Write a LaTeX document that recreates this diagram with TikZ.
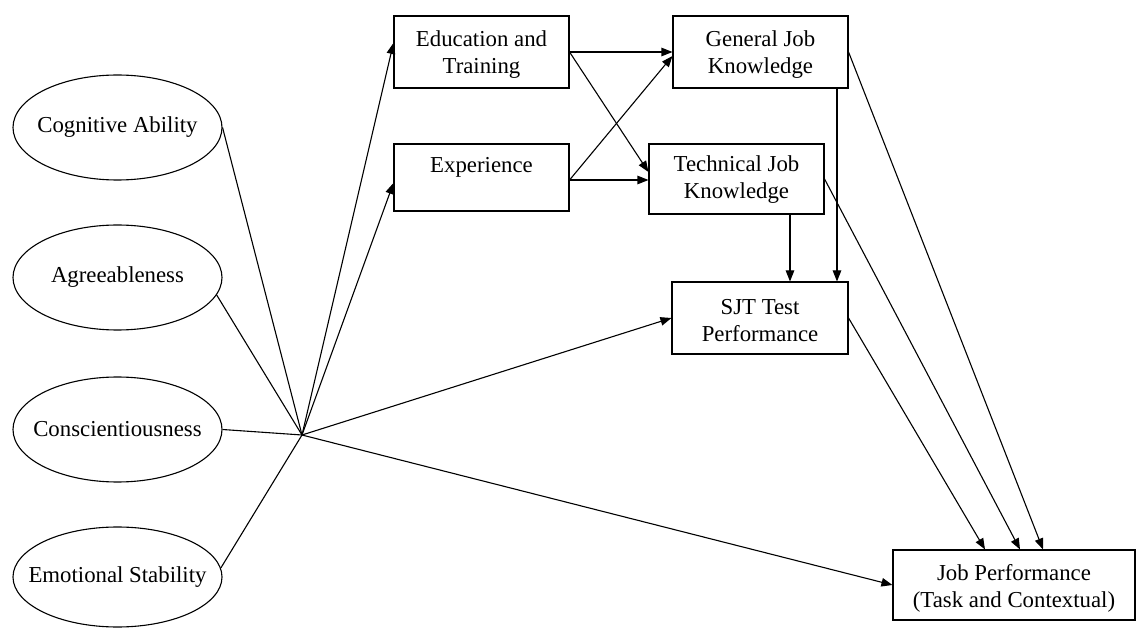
\documentclass[tikz,border=0pt]{standalone}
\usepackage{fontspec}
\setmainfont{Liberation Serif}
\usetikzlibrary{shapes.geometric,arrows.meta}
\begin{document}
\begin{tikzpicture}[x=1pt,y=-1pt,
  lbl/.style={font=\fontsize{22.8}{27}\selectfont, align=center, inner sep=0pt},
  trait/.style={draw, ellipse, inner sep=0pt, line width=1.1pt, minimum width=209pt, minimum height=105pt},
  boxn/.style={draw, rectangle, inner sep=0pt, line width=1.1pt},
  conn/.style={line width=1.1pt},
  arr/.style={conn, -{Triangle[length=11pt,width=8.5pt]}}]
\useasboundingbox (0,0) rectangle (1136,628);
% traits
\node[trait, label={[lbl,name=cogt]center:Cognitive Ability}] (cog) at (117.5,127.5) {};
\node[trait, label={[lbl,name=agrt]center:Agreeableness}] (agr) at (117.5,277.5) {};
\node[trait, label={[lbl,name=cont]center:Conscientiousness}] (con) at (117.5,429.5) {};
\node[trait, minimum height=100pt, label={[lbl,name=emot]center:Emotional Stability}] (emo) at (117.5,577) {};
% boxes
\node[boxn, minimum width=175pt, minimum height=72pt, label={[lbl,name=edut,yshift=-3pt]center:Education and\\Training}] (edu) at (481.5,52) {};
\node[boxn, minimum width=175pt, minimum height=67pt, label={[lbl,name=expt,yshift=10.5pt]center:Experience}] (exp) at (481.5,177.5) {};
\node[boxn, minimum width=175pt, minimum height=72pt, label={[lbl,name=gent,yshift=-3pt]center:General Job\\Knowledge}] (gen) at (760.5,52) {};
\node[boxn, minimum width=175pt, minimum height=70pt, label={[lbl,name=techt,yshift=-1pt]center:Technical Job\\Knowledge}] (tech) at (736.5,179) {};
\node[boxn, minimum width=176pt, minimum height=72pt, label={[lbl,name=sjtt,yshift=-3pt]center:SJT Test\\Performance}] (sjt) at (760,318) {};
\node[boxn, minimum width=242pt, minimum height=70pt, label={[lbl,name=jpt,yshift=-3.5pt]center:Job Performance\\(Task and Contextual)}] (jp) at (1014,585) {};
% hub
\coordinate (hub) at (302,435);
\draw[conn] (cog.east) -- (hub);
\draw[conn] (agr.-10) -- (hub);
\draw[conn] (con.east) -- (hub);
\draw[conn] (emo.5) -- (hub);
\draw[arr] (hub) -- ([yshift=9pt]edu.west);
\draw[arr] (hub) -- ([yshift=-5.5pt]exp.west);
\draw[arr] (hub) -- (sjt.west);
\draw[arr] (hub) -- (jp.west);
% middle
\draw[arr] (edu.east) -- (gen.west);
\draw[arr] (edu.east) -- ([yshift=7pt]tech.west);
\draw[arr] ([yshift=-2.5pt]exp.east) -- ([yshift=-4pt]gen.west);
\draw[arr] ([yshift=-2.5pt]exp.east) -- ([yshift=-1pt]tech.west);
% to SJT
\draw[arr] ([xshift=53.5pt]tech.south) -- ([xshift=53.5pt]tech.south |- sjt.north);
\draw[arr] ([xshift=76.5pt]gen.south) -- ([xshift=76.5pt]gen.south |- sjt.north);
% to job performance
\draw[arr] (gen.east) -- ([xshift=29pt]jp.north);
\draw[arr] (tech.east) -- ([xshift=6pt]jp.north);
\draw[arr] (sjt.east) -- ([xshift=-29pt]jp.north);
\end{tikzpicture}
\end{document}
